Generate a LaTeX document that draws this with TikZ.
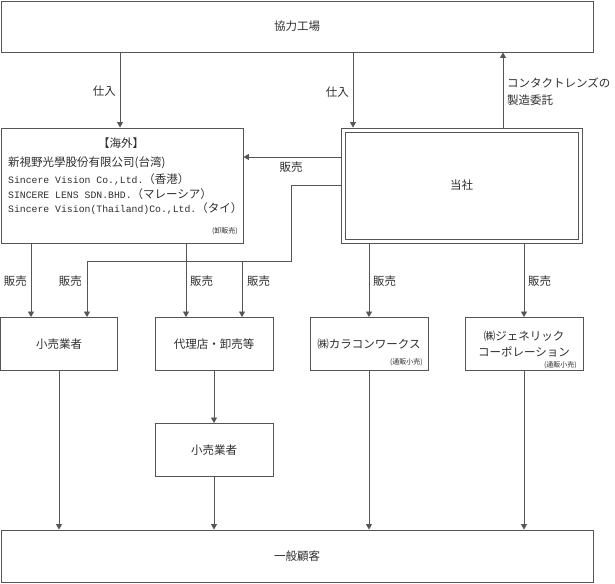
\documentclass[tikz,border=0pt]{standalone}
\usepackage{fontspec}
\setmainfont{Noto Sans CJK JP}
\newfontfamily\monofnt{Liberation Mono}
\usetikzlibrary{arrows.meta}
\definecolor{ln}{HTML}{555555}
\definecolor{tx}{HTML}{2E2E2E}
\begin{document}
\begin{tikzpicture}[x=1pt,y=-1pt,
  box/.style={draw=ln,line width=0.9pt,inner sep=0pt,text=tx,
    font=\fontsize{11.5}{16}\selectfont,align=center},
  lbl/.style={inner sep=0pt,text=tx,font=\fontsize{11.5}{17}\selectfont},
  small/.style={inner sep=0pt,text=tx,font=\fontsize{7}{8}\selectfont},
  arr/.style={draw=ln,line width=0.8pt,-{Triangle[length=5.5pt,width=6pt]}},
  conn/.style={draw=ln,line width=0.8pt}]
\useasboundingbox (0,0) rectangle (615,583);
% nodes
\node[box,minimum width=592pt,minimum height=51pt] (factory) at (297,26.5) {協力工場};
\node[box,minimum width=242pt,minimum height=115pt] (overseas) at (122,185.5) {};
\node[box,minimum width=241pt,minimum height=115pt] (company) at (461.5,185.5) {};
\node[box,minimum width=233pt,minimum height=107pt] (companyin) at (461.5,185.5) {当社};
\node[box,minimum width=117pt,minimum height=53pt] (retailer1) at (59,344) {小売業者};
\node[box,minimum width=118pt,minimum height=53pt] (dealer) at (214,344) {代理店・卸売等};
\node[box,minimum width=118pt,minimum height=53pt] (karacon) at (369,344) {㈱カラコンワークス};
\node[box,minimum width=118pt,minimum height=53pt] (generic) at (524,344) {㈱ジェネリック\\コーポレーション};
\node[box,minimum width=118pt,minimum height=53pt] (retailer2) at (214,450) {小売業者};
\node[box,minimum width=592pt,minimum height=52pt] (customers) at (297,556) {一般顧客};
% texts in overseas box
\node[lbl] (ov0) at (121,143) {【海外】};
\node[lbl,anchor=west] (ov1) at (8,163) {新視野光學股份有限公司(台湾)};
\node[lbl,anchor=west] (ov2) at (8,179) {{\monofnt\fontsize{9.8}{11}\selectfont Sincere Vision Co.,Ltd.}（香港）};
\node[lbl,anchor=west] (ov3) at (8,194) {{\monofnt\fontsize{9.8}{11}\selectfont SINCERE LENS SDN.BHD.}（マレーシア）};
\node[lbl,anchor=west] (ov4) at (8,209) {{\monofnt\fontsize{9.8}{11}\selectfont Sincere Vision(Thailand)Co.,Ltd.}（タイ）};
\node[small,anchor=east] (ovnote) at (238,231) {(卸販売)};
\node[small,anchor=east] (kanote) at (423,362) {(通販小売)};
\node[small,anchor=east] (genote) at (577,365) {(通販小売)};
% coordinates
\coordinate (xA) at (120,0);
\coordinate (xB) at (353,0);
\coordinate (xC) at (503,0);
\coordinate (yA) at (0,157);
\coordinate (yB) at (0,185);
\coordinate (xD) at (291,0);
\coordinate (yC) at (0,261);
\coordinate (xE) at (87,0);
\coordinate (xF) at (242,0);
\coordinate (xG) at (31,0);
\coordinate (xH) at (186,0);
% connectors
\draw[arr] (factory.south -| xA) -- (overseas.north -| xA);
\draw[arr] (factory.south -| xB) -- (company.north -| xB);
\draw[arr] (company.north -| xC) -- (factory.south -| xC);
\draw[arr] (company.west |- yA) -- (overseas.east |- yA);
\draw[arr] (company.west |- yB) -| (xD |- yC) -| (retailer1.north -| xE);
\draw[arr] (xF |- yC) -- (dealer.north -| xF);
\draw[arr] (overseas.south -| xG) -- (retailer1.north -| xG);
\draw[arr] (overseas.south -| xH) -- (dealer.north -| xH);
\draw[arr] (company.south -| karacon.north) -- (karacon.north);
\draw[arr] (company.south -| generic.north) -- (generic.north);
\draw[arr] (retailer1.south) -- (customers.north -| retailer1.south);
\draw[arr] (dealer.south) -- (retailer2.north);
\draw[arr] (retailer2.south) -- (customers.north -| retailer2.south);
\draw[arr] (karacon.south) -- (customers.north -| karacon.south);
\draw[arr] (generic.south) -- (customers.north -| generic.south);
% labels
\node[lbl,anchor=east] (l1) at (116,91) {仕入};
\node[lbl,anchor=east] (l2) at (349,92) {仕入};
\node[lbl,anchor=west,align=left] (l3) at (507,91.5) {コンタクトレンズの\\製造委託};
\node[lbl] (l4) at (291,167) {販売};
\node[lbl,anchor=east] (l5) at (27,281) {販売};
\node[lbl,anchor=east] (l6) at (82,281) {販売};
\node[lbl,anchor=west] (l7) at (190,281) {販売};
\node[lbl,anchor=west] (l8) at (247,281) {販売};
\node[lbl,anchor=west] (l9) at (373,281) {販売};
\node[lbl,anchor=west] (l10) at (528,281) {販売};
\end{tikzpicture}
\end{document}
